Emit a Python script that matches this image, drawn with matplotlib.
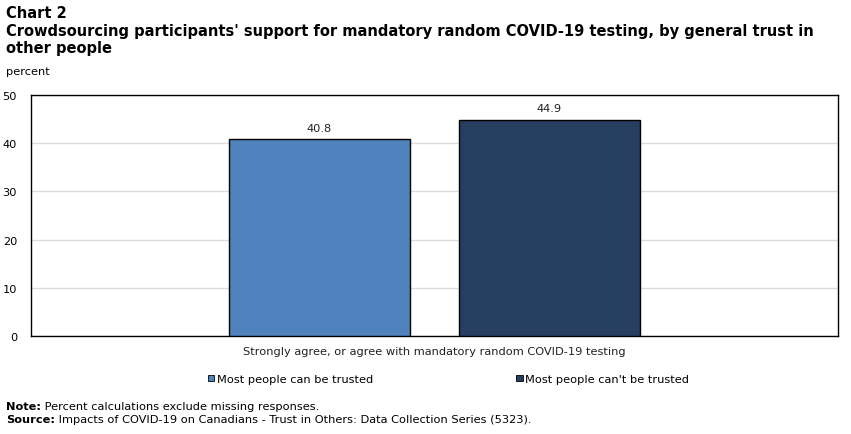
import os
import matplotlib
import matplotlib.pyplot as plt
from matplotlib.patches import Patch
from matplotlib.font_manager import FontProperties

category = "Strongly agree, or agree with mandatory random COVID-19 testing"
series = ["Most people can be trusted", "Most people can't be trusted"]
values = [40.8, 44.9]
colors = ["#4f81bd", "#263f61"]
yticks = [0, 10, 20, 30, 40, 50]

plt.rcParams['font.family'] = ['DejaVu Sans']
fs = 8.2

fig = plt.figure(figsize=(8.51, 4.35), dpi=100)
ax = fig.add_axes([31 / 851, 1 - 337 / 435, 807 / 851, 241 / 435])

offsets = [-0.1425, 0.1425]
width = 0.2243
for off, v, c in zip(offsets, values, colors):
    ax.bar(off, v, width=width, color=c, edgecolor="black", linewidth=1, zorder=3)
    ax.text(off, v + 1.3, f"{v:.1f}", ha="center", va="bottom", fontsize=fs, color="#222222")

ax.set_xlim(-0.5, 0.5)
ax.set_ylim(0, 50)
ax.set_yticks(yticks)
ax.tick_params(axis="y", length=0, labelsize=fs, pad=10)
ax.set_xticks([])
ax.grid(axis="y", color="#dcdcdc", linewidth=1, zorder=0)
for s in ax.spines.values():
    s.set_color("black")
    s.set_linewidth(1)

fig.text(434 / 851, 1 - 352 / 435, category, ha="center", va="center", fontsize=fs, color="#222222")

handles = [Patch(facecolor=c, edgecolor="black", linewidth=0.6) for c in colors]
fig.legend(handles, series, loc="center", bbox_to_anchor=(448.5 / 851, 1 - 380 / 435), ncol=2,
           frameon=False, fontsize=fs, handlelength=0.55, handleheight=0.55,
           handletextpad=0.2, columnspacing=12.6)

# use the bundled regular-width bold face for the title
bold_path = os.path.join(matplotlib.get_data_path(), "fonts", "ttf", "DejaVuSans-Bold.ttf")
title_fp = FontProperties(fname=bold_path, size=10.5)
fig.text(6 / 851, 1 - 14 / 435, "Chart 2", va="center", fontproperties=title_fp)
fig.text(6 / 851, 1 - 40 / 435,
         "Crowdsourcing participants' support for mandatory random COVID-19 testing, by general trust in\nother people",
         va="center", linespacing=1.15, fontproperties=title_fp)
fig.text(6 / 851, 1 - 72 / 435, "percent", fontsize=fs, va="center")

# footnotes: bold label followed by plain text
fig.canvas.draw()
renderer = fig.canvas.get_renderer()
for y, label, rest in [(407, "Note:", " Percent calculations exclude missing responses."),
                       (420, "Source:", " Impacts of COVID-19 on Canadians - Trust in Others: Data Collection Series (5323).")]:
    t = fig.text(6 / 851, 1 - y / 435, label, fontsize=fs, fontweight="bold", va="center")
    bb = t.get_window_extent(renderer)
    fig.text(bb.x1 / 851, 1 - y / 435, rest, fontsize=fs, va="center")

fig.savefig("out.png", dpi=100)
